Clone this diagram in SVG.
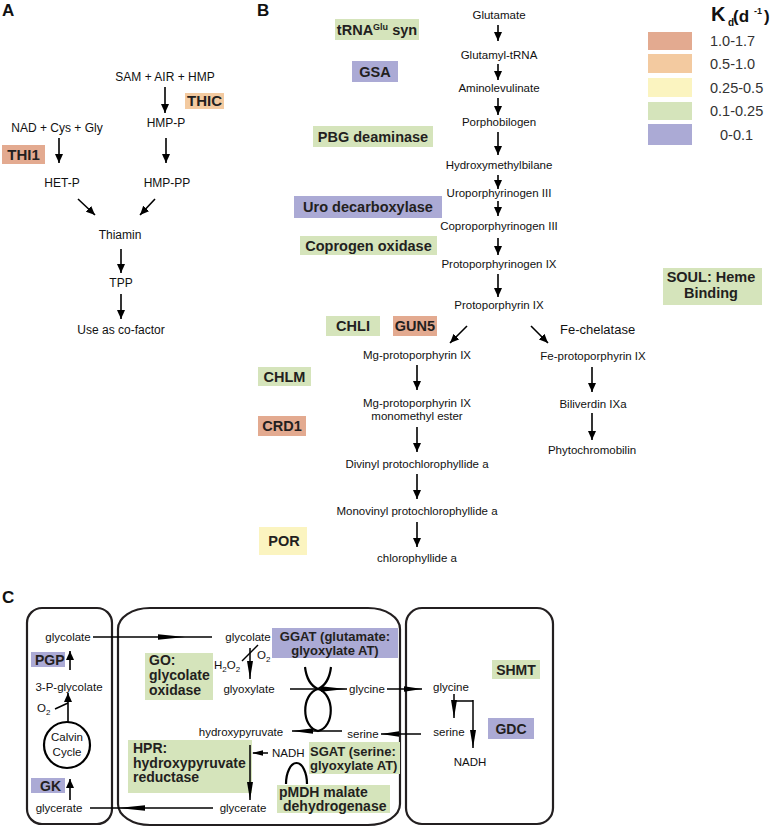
<svg xmlns="http://www.w3.org/2000/svg" width="777" height="827" viewBox="0 0 777 827">
<defs>
<marker id="ah" markerUnits="userSpaceOnUse" markerWidth="9" markerHeight="8" refX="9" refY="4" orient="auto"><path d="M0,0 L9,4 L0,8 z" fill="#000"/></marker>
<marker id="lh" markerUnits="userSpaceOnUse" markerWidth="18" markerHeight="7" refX="18" refY="3.5" orient="auto"><path d="M0,0.5 L18,3.5 L0,6.5 z" fill="#000"/></marker>
</defs>
<style>
text{font-family:"Liberation Sans",Arial,sans-serif;fill:#111}
.t{font-size:11.5px;text-anchor:middle}
.ta{font-size:12px;text-anchor:middle}
.tl{font-size:11.5px}
.e{font-size:14.5px;font-weight:bold;fill:#231f20;text-anchor:middle}
.ec{font-size:14px;font-weight:bold;fill:#231f20}
.es{font-size:13px;font-weight:bold;fill:#231f20}
.p{font-size:17px;font-weight:bold}
.lg{font-size:14.5px;fill:#333}
.r{fill:#e3aa90}.o{fill:#f3caa0}.y{fill:#fbf4c0}.g{fill:#d5e4bb}.v{fill:#abaad5}
.a{stroke:#000;stroke-width:1.6;fill:none;marker-end:url(#ah)}
.al{stroke:#000;stroke-width:1.5;fill:none;marker-end:url(#lh)}
.ln{stroke:#000;stroke-width:1.5;fill:none}
.lk{stroke:#000;stroke-width:2.2;fill:none}
.box{stroke:#231f20;stroke-width:2.2;fill:none}
.hd{fill:#000}
</style>

<!-- Panel labels -->
<text class="p" x="2" y="16">A</text>
<text class="p" x="257" y="16">B</text>
<text class="p" x="2" y="603">C</text>

<!-- Panel A -->
<g id="a-sam"><text class="ta" x="165" y="81">SAM + AIR + HMP</text></g>
<g id="a-thic"><rect class="o" x="185" y="93" width="39" height="16"/><text class="e" x="204.5" y="106" style="font-size:15px">THIC</text></g>
<g id="a-hmpp"><text class="ta" x="166" y="127">HMP-P</text></g>
<g id="a-nad"><text class="ta" x="57" y="132">NAD + Cys + Gly</text></g>
<g id="a-thi1"><rect class="r" x="2" y="145" width="43" height="19"/><text class="e" x="23.5" y="160" style="font-size:15px">THI1</text></g>
<g id="a-hetp"><text class="ta" x="62" y="187">HET-P</text></g>
<g id="a-hmppp"><text class="ta" x="167" y="187">HMP-PP</text></g>
<g id="a-thiamin"><text class="ta" x="120" y="239">Thiamin</text></g>
<g id="a-tpp"><text class="ta" x="121" y="287">TPP</text></g>
<g id="a-use"><text class="ta" x="121" y="334">Use as co-factor</text></g>

<!-- Panel B -->
<g id="b-glu"><text class="t" x="499" y="19">Glutamate</text></g>
<g id="b-trna"><rect class="g" x="335" y="19" width="84" height="21"/><text class="e" x="377" y="35">tRNA<tspan dy="-5" style="font-size:9px">Glu</tspan><tspan dy="5"> syn</tspan></text></g>
<g id="b-gtrna"><text class="t" x="499" y="59">Glutamyl-tRNA</text></g>
<g id="b-gsa"><rect class="v" x="352" y="61" width="46" height="21"/><text class="e" x="375" y="77">GSA</text></g>
<g id="b-ala"><text class="t" x="499" y="92">Aminolevulinate</text></g>
<g id="b-pbg"><text class="t" x="499" y="126">Porphobilogen</text></g>
<g id="b-pbgd"><rect class="g" x="313" y="126" width="120" height="21"/><text class="e" x="373" y="141.5">PBG deaminase</text></g>
<g id="b-hmb"><text class="t" x="499" y="169">Hydroxymethylbilane</text></g>
<g id="b-uro"><text class="t" x="499" y="197">Uroporphyrinogen III</text></g>
<g id="b-urod"><rect class="v" x="294" y="196" width="148" height="22"/><text class="e" x="368" y="212">Uro decarboxylase</text></g>
<g id="b-copro"><text class="t" x="499" y="230">Coproporphyrinogen III</text></g>
<g id="b-cpox"><rect class="g" x="300" y="236" width="137" height="19"/><text class="e" x="368.5" y="251">Coprogen oxidase</text></g>
<g id="b-protogen"><text class="t" x="499" y="268">Protoporphyrinogen IX</text></g>
<g id="b-proto"><text class="t" x="499" y="309">Protoporphyrin IX</text></g>
<g id="b-soul"><rect class="g" x="663" y="268" width="99" height="37"/><text class="e" x="711" y="282">SOUL: Heme</text><text class="e" x="711" y="298">Binding</text></g>
<g id="b-chli"><rect class="g" x="326" y="316" width="54" height="20"/><text class="e" x="353" y="331">CHLI</text></g>
<g id="b-gun5"><rect class="r" x="393" y="316" width="44" height="20"/><text class="e" x="415" y="331">GUN5</text></g>
<g id="b-fech"><text x="560" y="334" style="font-size:13px">Fe-chelatase</text></g>
<g id="b-mgp"><text class="t" x="417" y="359">Mg-protoporphyrin IX</text></g>
<g id="b-fep"><text class="t" x="593" y="360">Fe-protoporphyrin IX</text></g>
<g id="b-chlm"><rect class="g" x="258" y="367" width="53" height="19"/><text class="e" x="284.5" y="382">CHLM</text></g>
<g id="b-mgpme"><text class="t" x="417" y="407">Mg-protoporphyrin IX</text><text class="t" x="417" y="420">monomethyl ester</text></g>
<g id="b-bili"><text class="t" x="593" y="408">Biliverdin IXa</text></g>
<g id="b-crd1"><rect class="r" x="258" y="416" width="48" height="20"/><text class="e" x="282" y="431">CRD1</text></g>
<g id="b-phyto"><text class="t" x="592" y="454">Phytochromobilin</text></g>
<g id="b-dvp"><text class="t" x="417" y="468">Divinyl protochlorophyllide a</text></g>
<g id="b-mvp"><text class="t" x="417" y="515">Monovinyl protochlorophyllide a</text></g>
<g id="b-por"><rect class="y" x="259" y="527" width="48" height="28"/><text class="e" x="284" y="546">POR</text></g>
<g id="b-chlide"><text class="t" x="417" y="562">chlorophyllide a</text></g>

<!-- Legend -->
<g id="legend">
<text x="711" y="21" style="font-size:20px;font-weight:bold">K</text>
<text x="728" y="26" style="font-size:10px;font-weight:bold">d</text>
<text x="733" y="22" style="font-size:17px;font-weight:bold">(d</text>
<text x="754" y="14" style="font-size:9px;font-weight:bold">-1</text>
<text x="764" y="22" style="font-size:17px;font-weight:bold">)</text>
<rect class="r" x="648" y="32" width="44" height="18"/>
<rect class="o" x="648" y="54" width="44" height="19"/>
<rect class="y" x="648" y="78" width="44" height="19"/>
<rect class="g" x="648" y="102" width="44" height="18"/>
<rect class="v" x="648" y="124" width="44" height="21"/>
<text class="lg" x="710" y="46">1.0-1.7</text>
<text class="lg" x="710" y="69">0.5-1.0</text>
<text class="lg" x="710" y="93">0.25-0.5</text>
<text class="lg" x="710" y="116">0.1-0.25</text>
<text class="lg" x="720" y="140">0-0.1</text>
</g>

<!-- Panel C compartments -->
<g id="c-chloroplast"><rect class="box" x="27" y="608" width="85" height="216" rx="15"/></g>
<g id="c-peroxisome"><path class="box" d="M150,608 H368 A32,21 0 0 1 400,629 V804 A32,21 0 0 1 368,825 H150 A32,21 0 0 1 118,804 V629 A32,21 0 0 1 150,608 Z"/></g>
<g id="c-mito"><rect class="box" x="406" y="608" width="147" height="216" rx="16"/></g>

<!-- Panel C nodes -->
<g id="c-glycolate1"><text class="t" x="68" y="641">glycolate</text></g>
<g id="c-pgp"><rect class="v" x="31" y="652" width="34" height="15"/><text class="ec" x="35" y="665">PGP</text></g>
<g id="c-3pg"><text class="t" x="69" y="691">3-P-glycolate</text></g>
<g id="c-o2a"><text class="tl" x="37" y="712">O<tspan dy="3" style="font-size:8px">2</tspan></text></g>
<g id="c-calvin"><circle class="lk" cx="67" cy="745" r="23"/><text class="t" x="67" y="741">Calvin</text><text class="t" x="67" y="756">Cycle</text></g>
<g id="c-gk"><rect class="v" x="31" y="778" width="34" height="15"/><text class="ec" x="40" y="791">GK</text></g>
<g id="c-glycerate1"><text class="t" x="59" y="812">glycerate</text></g>

<g id="c-glycolate2"><text class="t" x="248" y="641">glycolate</text></g>
<g id="c-ggat"><rect class="v" x="272" y="628" width="126" height="30"/><text class="es" x="335" y="641" text-anchor="middle">GGAT (glutamate:</text><text class="es" x="335" y="655" text-anchor="middle">glyoxylate AT)</text></g>
<g id="c-go"><rect class="g" x="145" y="653" width="68" height="47"/><text class="ec" x="149" y="665">GO:</text><text class="ec" x="149" y="680">glycolate</text><text class="ec" x="149" y="695">oxidase</text></g>
<g id="c-h2o2"><text class="tl" x="214" y="669">H<tspan dy="3" style="font-size:8px">2</tspan><tspan dy="-3">O</tspan><tspan dy="3" style="font-size:8px">2</tspan></text></g>
<g id="c-o2b"><text class="tl" x="257" y="659">O<tspan dy="3" style="font-size:8px">2</tspan></text></g>
<g id="c-glyoxylate"><text class="t" x="249" y="693">glyoxylate</text></g>
<g id="c-glycine2"><text class="t" x="367" y="693">glycine</text></g>
<g id="c-hpyr"><text class="t" x="241" y="736">hydroxypyruvate</text></g>
<g id="c-serine2"><text class="t" x="363" y="738">serine</text></g>
<g id="c-hpr"><rect class="g" x="128" y="740" width="124" height="53"/><text class="ec" x="133" y="753">HPR:</text><text class="ec" x="133" y="768">hydroxypyruvate</text><text class="ec" x="133" y="782">reductase</text></g>
<g id="c-nadh2"><text class="tl" x="272" y="757">NADH</text></g>
<g id="c-sgat"><rect class="g" x="309" y="742" width="91" height="32"/><text class="es" x="310" y="756">SGAT (serine:</text><text class="es" x="310" y="770">glyoxylate AT)</text></g>
<g id="c-pmdh"><rect class="g" x="277" y="785" width="113" height="28"/><text class="ec" x="279" y="797">pMDH malate</text><text class="ec" x="283" y="811">dehydrogenase</text></g>
<g id="c-glycerate2"><text class="t" x="243" y="812">glycerate</text></g>

<g id="c-glycine3"><text class="t" x="451" y="691">glycine</text></g>
<g id="c-shmt"><rect class="g" x="492" y="660" width="48" height="19"/><text class="e" x="516" y="675" style="font-size:14px">SHMT</text></g>
<g id="c-serine3"><text class="t" x="449" y="736">serine</text></g>
<g id="c-gdc"><rect class="v" x="488" y="718" width="46" height="21"/><text class="e" x="511" y="734" style="font-size:14px">GDC</text></g>
<g id="c-nadh3"><text class="t" x="470" y="766">NADH</text></g>

<!-- Connectors -->
<g id="connectors">
<line class="a" x1="165" y1="87" x2="165" y2="113"/>
<line class="a" x1="59" y1="138" x2="59" y2="163"/>
<line class="a" x1="166" y1="138" x2="166" y2="163"/>
<line class="a" x1="78" y1="199" x2="95" y2="215"/>
<line class="a" x1="155" y1="199" x2="140" y2="215"/>
<line class="a" x1="121" y1="249" x2="121" y2="273"/>
<line class="a" x1="121" y1="294" x2="121" y2="319"/>
<line class="a" x1="498" y1="25" x2="498" y2="41"/>
<line class="a" x1="498" y1="64" x2="498" y2="80"/>
<line class="a" x1="498" y1="98" x2="498" y2="115"/>
<line class="a" x1="498" y1="132" x2="498" y2="155"/>
<line class="a" x1="498" y1="175" x2="498" y2="189"/>
<line class="a" x1="498" y1="201" x2="498" y2="216"/>
<line class="a" x1="498" y1="238" x2="498" y2="255"/>
<line class="a" x1="498" y1="274" x2="498" y2="297"/>
<line class="a" x1="467" y1="326" x2="450" y2="343"/>
<line class="a" x1="531" y1="326" x2="548" y2="343"/>
<line class="a" x1="417" y1="365" x2="417" y2="390"/>
<line class="a" x1="592" y1="367" x2="592" y2="392"/>
<line class="a" x1="592" y1="413" x2="592" y2="440"/>
<line class="a" x1="417" y1="427" x2="417" y2="452"/>
<line class="a" x1="417" y1="474" x2="417" y2="499"/>
<line class="a" x1="417" y1="522" x2="417" y2="547"/>
<line class="a" x1="70" y1="670" x2="70" y2="651"/>
<line class="a" x1="68" y1="722" x2="68" y2="693"/>
<path class="ln" d="M55,709 L68,703"/>
<line class="a" x1="70" y1="800" x2="70" y2="779"/>
<line class="ln" x1="93" y1="637" x2="212" y2="637"/>
<polygon class="hd" points="158,634.3 185,637 158,639.7"/>
<line class="ln" x1="90" y1="808" x2="213" y2="808"/>
<polygon class="hd" points="118,808 145,805.3 145,810.7"/>
<line class="al" x1="250" y1="648" x2="250" y2="679"/>
<line class="ln" x1="242" y1="661" x2="258" y2="645"/>
<line class="ln" x1="290" y1="689" x2="347" y2="689"/>
<polygon class="hd" points="321,686.3 346,689 321,691.7"/>
<line class="ln" x1="387" y1="689" x2="422" y2="689"/>
<polygon class="hd" points="404,686.3 422,689 404,691.7"/>
<path class="lk" d="M305,667 Q307,684 318,689 M331,667 Q329,684 318,689 M318,689 C301,694 301,727 318,731 C335,727 335,694 318,689"/>
<line class="ln" x1="342" y1="731" x2="292" y2="731"/>
<polygon class="hd" points="292,731 313,728.3 313,733.7"/>
<line class="ln" x1="421" y1="734" x2="381" y2="734"/>
<polygon class="hd" points="381,734 399,731.3 399,736.7"/>
<line class="al" x1="250" y1="745" x2="250" y2="800"/>
<line class="ln" x1="268" y1="753" x2="253" y2="753"/>
<polygon class="hd" points="252,753 263,750.3 263,755.7"/>
<path class="lk" d="M286,784 A10.5,21 0 0 1 307,784"/>
<path class="ln" d="M454,694 V701 H473"/>
<line class="al" x1="454" y1="700" x2="454" y2="718"/>
<line class="al" x1="473" y1="700" x2="473" y2="748"/>
</g>
</svg>
